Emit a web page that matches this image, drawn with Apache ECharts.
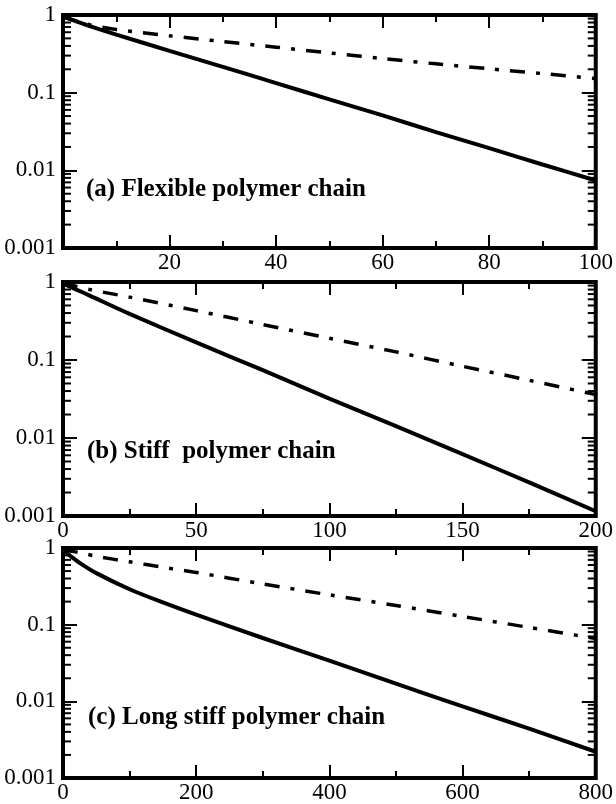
<!DOCTYPE html>
<html>
<head>
<meta charset="utf-8">
<script src="https://cdn.jsdelivr.net/npm/echarts@6.0.0/dist/echarts.min.js"></script>
<style>
  html, body { margin: 0; padding: 0; background: #fff; }
  #chart { width: 616px; height: 804px; }
</style>
</head>
<body>
<div id="chart"></div>
<script>
// (a) flexible chain
const flexX = [0, 2, 5, 10, 20, 30, 40, 50, 60, 70, 80, 90, 100]
const flexSolid = [0.95, 0.85, 0.72, 0.56, 0.345, 0.215, 0.133, 0.082, 0.051, 0.031, 0.0193, 0.0119, 0.0074]
const flexDash = [0.97, 0.86, 0.75, 0.65, 0.54, 0.455, 0.385, 0.325, 0.275, 0.235, 0.203, 0.176, 0.152]

// (b) stiff chain
const stiffX = [0, 5, 10, 25, 50, 75, 100, 125, 150, 175, 200]
const stiffSolid = [0.95, 0.8, 0.67, 0.39, 0.168, 0.074, 0.032, 0.0142, 0.0062, 0.0027, 0.00115]
const stiffDash = [0.98, 0.88, 0.8, 0.64, 0.43, 0.285, 0.19, 0.127, 0.083, 0.055, 0.036]

// (c) long stiff chain
const longX = [0, 10, 25, 50, 100, 150, 200, 300, 400, 500, 600, 700, 800]
const longSolid = [0.93, 0.8, 0.64, 0.47, 0.29, 0.195, 0.135, 0.067, 0.034, 0.017, 0.0086, 0.0044, 0.0022]
const longDash = [0.98, 0.92, 0.87, 0.78, 0.66, 0.56, 0.48, 0.34, 0.245, 0.178, 0.128, 0.092, 0.066]

// minor ticks of the log axes (2..9 in each decade)
const logMinorTicks = [
  0.002, 0.003, 0.004, 0.005, 0.006, 0.007, 0.008, 0.009,
  0.02, 0.03, 0.04, 0.05, 0.06, 0.07, 0.08, 0.09,
  0.2, 0.3, 0.4, 0.5, 0.6, 0.7, 0.8, 0.9
]

const panelLabels = ['(a) Flexible polymer chain', '(b) Stiff  polymer chain', '(c) Long stiff polymer chain']

const FONT = '"Liberation Serif", "Times New Roman", serif'
const pair = (xs, ys) => xs.map((x, i) => [x, ys[i]])

const panels = [
  { top: 15, height: 233, xMax: 100, step: 20, hideZero: true, x: flexX, solid: flexSolid, dash: flexDash, tx: 86, ty: 190 },
  { top: 282, height: 234, xMax: 200, step: 50, hideZero: false, x: stiffX, solid: stiffSolid, dash: stiffDash, tx: 87, ty: 452 },
  { top: 548, height: 232, xMax: 800, step: 200, hideZero: false, x: longX, solid: longSolid, dash: longDash, tx: 88, ty: 718 }
]

const tickStyle = { color: '#000', width: 2 }
const grid = []
const xAxis = []
const yAxis = []
const series = []
const graphic = []

panels.forEach((p, i) => {
  grid.push({
    left: 63, right: 19, top: p.top, height: p.height,
    show: true, borderColor: '#000', borderWidth: 4, backgroundColor: 'transparent'
  })

  const xBase = {
    type: 'value', gridIndex: i, min: 0, max: p.xMax, interval: p.step,
    axisLine: { show: false, onZero: false },
    splitLine: { show: false },
    axisTick: { inside: true, length: 13, lineStyle: tickStyle },
    minorTick: { show: true, splitNumber: 2, length: 7, lineStyle: tickStyle },
    minorSplitLine: { show: false }
  }
  xAxis.push(Object.assign({}, xBase, {
    position: 'bottom',
    axisLabel: {
      margin: 3, color: '#000', fontFamily: FONT, fontSize: 23,
      showMinLabel: true, showMaxLabel: true,
      formatter: v => (p.hideZero && v === 0) ? '' : String(v)
    }
  }))
  xAxis.push(Object.assign({}, xBase, { position: 'top', axisLabel: { show: false } }))

  const yBase = {
    type: 'log', logBase: 10, gridIndex: i, min: 0.001, max: 1,
    axisLine: { show: false, onZero: false },
    splitLine: { show: false },
    axisTick: { inside: true, length: 14, lineStyle: tickStyle }
  }
  yAxis.push(Object.assign({}, yBase, {
    position: 'left',
    axisLabel: {
      margin: 7, color: '#000', fontFamily: FONT, fontSize: 23,
      showMinLabel: true, showMaxLabel: true,
      formatter: v => String(parseFloat(Number(v).toPrecision(3)))
    }
  }))
  yAxis.push(Object.assign({}, yBase, { position: 'right', axisLabel: { show: false } }))

  series.push({
    type: 'line', xAxisIndex: 2 * i, yAxisIndex: 2 * i,
    data: pair(p.x, p.solid), showSymbol: false, smooth: 0.3,
    lineStyle: { color: '#000', width: 4 }
  })
  series.push({
    type: 'line', xAxisIndex: 2 * i, yAxisIndex: 2 * i,
    data: pair(p.x, p.dash), showSymbol: false, smooth: 0.3,
    lineStyle: { color: '#000', width: 3.5, type: [15, 11, 4, 11] }
  })
  // minor log ticks, left and right
  series.push({
    type: 'custom', xAxisIndex: 2 * i, yAxisIndex: 2 * i, silent: true,
    data: logMinorTicks.map(v => [0, v]),
    renderItem: (params, api) => {
      const v = api.value(1)
      const l = api.coord([0, v])
      const r = api.coord([p.xMax, v])
      return {
        type: 'group',
        children: [
          { type: 'line', shape: { x1: l[0], y1: l[1], x2: l[0] + 8, y2: l[1] }, style: { stroke: '#000', lineWidth: 2 } },
          { type: 'line', shape: { x1: r[0] - 8, y1: r[1], x2: r[0], y2: r[1] }, style: { stroke: '#000', lineWidth: 2 } }
        ]
      }
    }
  })

  graphic.push({
    type: 'text', x: p.tx, y: p.ty,
    style: {
      text: panelLabels[i], fill: '#000',
      fontFamily: FONT, fontSize: 25, fontWeight: 'bold', verticalAlign: 'middle'
    }
  })
})

const chart = echarts.init(document.getElementById('chart'))
chart.setOption({
  animation: false,
  backgroundColor: '#fff',
  grid, xAxis, yAxis, series, graphic
})
</script>
</body>
</html>
